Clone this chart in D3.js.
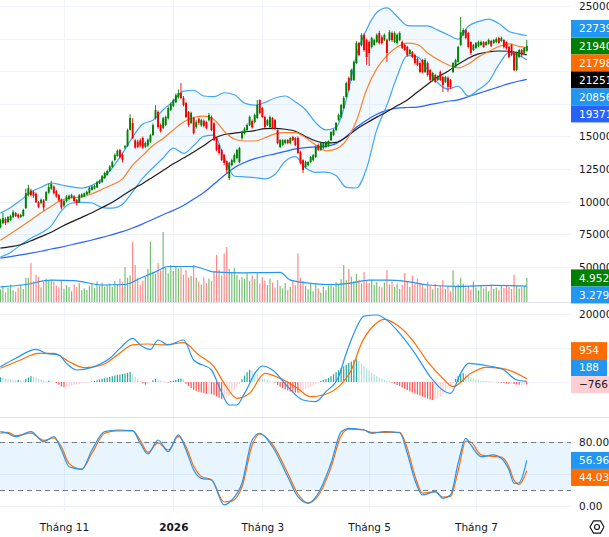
<!DOCTYPE html>
<html>
<head>
<meta charset="utf-8">
<script src="https://cdn.jsdelivr.net/npm/d3@7"></script>
<style>
html, body { margin: 0; padding: 0; background: #fff; overflow: hidden; }
svg { display: block; }
</style>
</head>
<body>
<svg id="chart" width="609" height="537"></svg>
<script>
// ---- data (prices in thousand VND, volume in millions) ----
var openP = [
 80.5, 83.6, 86.7, 84.4, 85.9, 88.2, 91.3, 90.0, 88.2, 89.0,
 95.0, 105.0, 108.5, 107.5, 106.0, 99.7, 99.0, 101.0, 101.0, 107.0,
 110.0, 111.5, 108.0, 105.0, 101.5, 97.0, 100.5, 102.0, 103.0, 104.0,
 101.5, 99.5, 103.5, 104.0, 105.5, 106.5, 109.0, 110.0, 111.0, 114.0,
 115.0, 118.0, 120.5, 123.5, 126.5, 132.0, 135.0, 139.5, 136.0, 141.5,
 142.5, 155.0, 160.3, 147.0, 146.0, 147.0, 148.8, 142.0, 143.0, 146.0,
 151.0, 164.0, 168.7, 158.7, 156.5, 158.7, 164.0, 170.2, 173.3, 176.3,
 180.0, 183.3, 179.5, 175.6, 168.7, 160.3, 164.1, 157.2, 163.5, 158.5,
 162.0, 161.0, 162.5, 164.9, 160.0, 148.8, 143.4, 139.6, 135.7, 131.0,
 118.1, 128.0, 130.4, 133.4, 130.4, 148.8, 152.6, 154.9, 158.7, 161.8,
 161.0, 164.1, 177.9, 171.8, 164.9, 158.7, 157.2, 164.1, 162.6, 154.9,
 141.9, 143.4, 144.9, 147.2, 144.9, 149.5, 148.8, 148.8, 138.0, 131.9,
 126.5, 128.1, 130.4, 131.9, 134.2, 143.4, 139.6, 141.1, 141.9, 142.6,
 147.2, 151.1, 154.9, 162.6, 164.9, 171.8, 180.2, 194.8, 193.3, 193.3,
 206.3, 221.6, 220.1, 227.8, 223.9, 222.4, 218.6, 220.1, 222.4, 229.3,
 226.0, 223.9, 223.9, 223.9, 229.3, 222.4, 221.6, 223.9, 222.4, 220.1,
 218.6, 213.2, 214.7, 212.4, 209.4, 206.3, 208.6, 199.4, 206.3, 200.9,
 193.3, 197.1, 193.3, 199.4, 195.5, 191.8, 195.0, 193.3, 199.4, 203.2,
 207.1, 220.1, 227.8, 231.6, 229.3, 222.4, 216.3, 217.8, 219.4, 220.1,
 222.4, 220.1, 221.0, 223.2, 221.6, 222.4, 225.5, 223.2, 223.9, 222.4,
 218.6, 220.1, 214.0, 200.9, 210.9, 216.3, 214.0, 215.5
];
var highP = [
 87.0, 91.3, 88.0, 89.0, 90.0, 93.5, 92.0, 91.0, 90.5, 94.5,
 110.0, 113.0, 110.0, 108.5, 107.0, 100.5, 102.5, 102.0, 108.0, 114.0,
 116.0, 112.5, 109.0, 106.0, 102.5, 101.5, 105.0, 105.5, 106.0, 105.0,
 102.0, 106.0, 106.5, 107.0, 108.5, 111.5, 112.5, 113.0, 116.0, 117.0,
 120.5, 123.0, 124.5, 128.0, 131.5, 137.0, 140.0, 140.5, 137.0, 143.5,
 156.0, 167.0, 164.0, 148.0, 147.5, 148.5, 150.0, 146.0, 148.5, 152.0,
 160.0, 174.0, 170.0, 160.0, 165.0, 166.0, 173.0, 176.0, 179.0, 183.0,
 186.0, 191.0, 181.0, 176.5, 169.5, 169.0, 165.0, 162.5, 164.5, 163.5,
 163.0, 162.0, 168.0, 166.0, 161.0, 149.5, 144.5, 140.5, 136.5, 131.5,
 130.5, 133.0, 137.0, 140.5, 142.0, 154.5, 157.0, 160.0, 166.0, 163.0,
 167.5, 178.0, 178.5, 172.5, 166.0, 163.5, 166.0, 165.0, 163.5, 155.5,
 148.0, 148.0, 148.0, 148.0, 149.5, 150.5, 149.5, 150.0, 139.0, 132.5,
 131.5, 131.0, 135.0, 136.5, 143.0, 144.5, 146.0, 145.5, 146.5, 147.0,
 154.0, 156.0, 161.0, 167.5, 175.0, 181.0, 192.0, 196.0, 202.0, 208.0,
 223.0, 222.5, 229.0, 229.0, 225.0, 223.5, 226.5, 225.0, 229.0, 231.0,
 227.5, 229.0, 225.0, 231.5, 230.5, 230.5, 229.0, 230.5, 223.5, 221.0,
 219.5, 217.0, 215.5, 213.5, 210.5, 207.5, 209.5, 210.0, 207.5, 202.0,
 199.5, 198.0, 197.0, 200.5, 196.5, 196.5, 196.0, 194.0, 207.0, 209.5,
 219.5, 241.6, 233.0, 232.5, 230.0, 223.0, 221.0, 222.5, 223.5, 223.5,
 223.0, 223.0, 225.0, 224.0, 224.5, 226.0, 226.5, 226.5, 224.5, 223.0,
 219.5, 221.0, 215.0, 215.0, 217.0, 217.0, 218.5, 224.0
];
var lowP = [
 79.5, 82.8, 82.0, 83.5, 85.0, 87.5, 88.2, 87.0, 87.5, 88.5,
 94.5, 104.0, 104.0, 103.0, 99.0, 95.0, 98.0, 93.0, 100.5, 106.0,
 109.0, 105.5, 103.0, 100.0, 94.0, 96.0, 99.5, 101.0, 102.5, 99.5,
 97.0, 99.0, 103.0, 103.5, 105.0, 106.0, 108.5, 109.5, 110.5, 113.5,
 114.5, 117.5, 120.0, 123.0, 126.0, 131.0, 134.5, 133.0, 130.0, 140.5,
 142.0, 154.5, 148.0, 140.5, 141.0, 141.5, 140.5, 141.0, 142.0, 145.0,
 150.5, 163.0, 156.0, 153.0, 155.5, 158.0, 163.0, 169.5, 172.5, 175.5,
 179.0, 178.5, 173.0, 164.0, 157.5, 159.5, 151.5, 156.0, 159.0, 157.5,
 157.0, 155.5, 161.5, 154.0, 146.5, 138.5, 136.0, 131.0, 128.0, 122.0,
 116.5, 127.0, 129.5, 132.5, 129.5, 147.5, 151.5, 154.0, 158.0, 156.0,
 160.0, 163.5, 167.0, 164.0, 156.0, 158.0, 156.5, 155.5, 155.0, 144.0,
 141.0, 142.5, 144.0, 144.0, 144.0, 146.5, 142.5, 136.5, 128.5, 122.0,
 125.5, 127.0, 129.5, 131.0, 133.5, 139.0, 139.0, 140.5, 141.0, 142.0,
 146.5, 150.5, 154.0, 161.5, 164.0, 171.0, 179.5, 184.5, 192.5, 192.5,
 205.5, 211.5, 219.0, 215.0, 205.0, 204.0, 217.5, 219.5, 221.5, 220.5,
 220.5, 223.0, 207.0, 223.0, 222.5, 221.5, 220.5, 223.0, 217.0, 215.5,
 211.0, 212.5, 210.0, 205.0, 204.0, 198.5, 198.5, 198.5, 196.0, 192.5,
 192.0, 191.0, 192.5, 192.5, 184.0, 191.0, 184.0, 186.5, 198.5, 202.5,
 206.5, 219.5, 227.0, 224.5, 217.5, 212.5, 215.5, 217.0, 218.5, 219.5,
 218.0, 219.5, 220.5, 218.5, 221.0, 221.5, 221.0, 222.5, 217.5, 216.5,
 210.0, 211.5, 200.0, 200.0, 210.0, 211.0, 213.0, 215.0
];
var closeP = [
 85.9, 87.4, 83.6, 88.2, 88.9, 92.0, 89.0, 88.0, 89.7, 93.6,
 106.6, 110.4, 105.0, 104.5, 99.7, 96.0, 101.5, 95.5, 107.4, 111.2,
 113.5, 106.5, 104.0, 101.0, 95.5, 100.5, 104.0, 104.5, 105.0, 100.5,
 99.0, 105.0, 105.5, 106.5, 107.5, 110.5, 111.5, 112.0, 115.0, 116.0,
 119.5, 122.0, 123.5, 127.0, 130.5, 135.7, 139.0, 134.0, 132.0, 142.5,
 154.9, 164.1, 148.8, 141.5, 142.0, 143.0, 141.5, 145.0, 147.5, 151.0,
 158.7, 170.2, 157.2, 154.0, 164.0, 165.0, 171.8, 174.8, 177.9, 181.7,
 183.3, 179.5, 174.1, 164.9, 158.7, 168.0, 152.6, 161.0, 160.5, 162.5,
 158.0, 156.5, 166.4, 154.9, 147.2, 139.6, 137.3, 131.9, 129.6, 124.2,
 129.6, 131.9, 135.7, 139.6, 141.1, 153.4, 156.0, 158.7, 164.9, 157.0,
 166.4, 174.1, 168.0, 164.9, 157.2, 162.6, 164.9, 156.4, 156.4, 144.9,
 147.2, 147.2, 147.2, 144.9, 148.8, 147.2, 143.4, 137.3, 129.6, 124.2,
 130.4, 130.4, 134.2, 135.7, 141.9, 139.6, 144.9, 144.9, 145.7, 146.5,
 153.4, 154.9, 160.3, 166.4, 174.1, 179.5, 191.0, 185.6, 200.9, 207.1,
 221.6, 212.4, 227.8, 216.3, 210.9, 214.0, 225.5, 223.9, 227.8, 221.6,
 221.6, 227.8, 214.0, 230.0, 223.9, 229.3, 227.8, 229.3, 217.8, 216.3,
 212.4, 216.3, 210.9, 206.3, 204.8, 199.4, 199.4, 208.6, 197.1, 193.3,
 198.6, 191.8, 196.3, 193.3, 189.4, 195.5, 188.0, 187.9, 206.3, 208.6,
 218.6, 230.0, 231.6, 225.5, 218.6, 214.0, 220.1, 221.6, 222.4, 222.4,
 218.6, 222.4, 223.9, 219.4, 223.9, 224.7, 221.6, 225.5, 218.6, 217.8,
 210.9, 212.4, 200.9, 214.0, 216.3, 212.4, 217.8, 219.4
];
var volume = [
 2.6, 3.2, 2.0, 2.9, 3.6, 2.4, 2.1, 3.0, 3.5, 2.7,
 5.0, 5.0, 8.0, 4.3, 5.6, 5.2, 3.0, 4.1, 4.8, 4.5,
 4.6, 4.2, 3.4, 3.0, 4.5, 2.7, 3.5, 3.1, 2.2, 3.6,
 3.1, 3.9, 2.4, 2.8, 2.5, 3.3, 3.7, 2.9, 4.2, 3.4,
 4.0, 3.2, 3.5, 3.8, 3.1, 4.3, 3.5, 4.8, 4.1, 7.2,
 5.0, 5.5, 12.4, 7.6, 4.9, 3.5, 4.4, 5.2, 6.8, 12.4,
 6.2, 5.8, 8.0, 6.5, 14.4, 7.0, 5.9, 7.6, 6.4, 7.3,
 6.9, 7.1, 5.6, 6.6, 5.0, 5.4, 7.6, 5.0, 4.2, 3.6,
 5.1, 3.9, 4.8, 4.3, 6.3, 9.7, 6.6, 5.4, 10.0, 11.3,
 6.8, 5.9, 7.0, 5.5, 4.6, 5.1, 4.8, 5.9, 4.3, 5.5,
 4.7, 5.9, 3.8, 5.1, 4.4, 3.5, 4.8, 4.0, 3.0, 4.5,
 3.3, 2.8, 3.9, 2.5, 3.1, 4.6, 3.4, 10.0, 5.0, 4.3,
 3.3, 2.6, 3.9, 2.2, 3.7, 2.8, 1.9, 3.1, 2.4, 3.4,
 3.8, 3.0, 4.1, 3.6, 4.7, 7.6, 4.5, 6.8, 5.2, 4.3,
 5.8, 4.6, 3.8, 6.2, 4.4, 3.9, 4.6, 3.5, 4.1, 3.2,
 3.0, 4.0, 6.6, 3.6, 4.2, 3.1, 3.8, 2.7, 3.5, 6.0,
 4.3, 3.1, 5.4, 3.7, 4.8, 4.0, 3.5, 2.8, 4.2, 3.4,
 2.6, 3.7, 2.9, 3.3, 4.5, 2.7, 3.4, 2.2, 6.5, 3.1,
 3.6, 5.0, 3.8, 2.9, 3.2, 2.6, 4.2, 3.0, 2.4, 3.5,
 2.8, 3.1, 2.2, 3.6, 2.7, 3.0, 2.5, 3.3, 2.9, 3.4,
 3.1, 2.7, 5.6, 3.3, 2.8, 3.0, 3.2, 4.952
];

// moving averages / bollinger bands, read at every 4th session
var maDays = [0, 4, 8, 12, 16, 20, 24, 28, 32, 36, 40, 44, 48, 52, 56, 60, 64, 68, 72, 76,
 80, 84, 88, 92, 96, 100, 104, 108, 112, 116, 120, 124, 128, 132, 136, 140, 144, 148, 152, 156,
 160, 164, 168, 172, 176, 180, 184, 188, 192, 196, 200, 204, 207];
var ma20 = [70.5, 75.5, 80.5, 86, 91.5, 96.5, 101.3, 103, 103.6, 106,
 109.5, 113, 117.5, 128, 135.5, 143, 148.5, 155, 161, 164.5,
 165.6, 163, 154, 148, 146.5, 146.5, 149, 152, 153, 153,
 149, 143.5, 139, 140.5, 147, 162, 186, 202, 212, 218.5,
 221.6, 220.5, 214, 209, 205, 202.5, 205.5, 211, 215, 219,
 221, 219, 217.98];
var ma50 = [64.4, 65.5, 67, 70, 73.2, 76.5, 80.8, 84.5, 88, 91.5,
 95.5, 99.5, 104.5, 109.5, 114, 119, 124, 129, 133.5, 138,
 143, 148.5, 151.5, 152.5, 153.5, 154.5, 156, 156.2, 155.5, 154,
 150, 146.5, 145, 145.5, 149.5, 155.5, 160.3, 164.8, 169, 173.5,
 178, 184, 190, 195.5, 200, 205.3, 210, 213.3, 214.8, 215.5,
 215.3, 214, 212.51];
var ma100 = [56.7, 57.9, 59.2, 60.5, 62, 63.7, 65.2, 67, 68.8, 70.6,
 72.6, 74.8, 77, 79.8, 83, 86.5, 90, 93.3, 97, 102,
 107, 113.5, 120, 126, 130, 133, 135, 136.7, 138.5, 140.5,
 141.5, 142, 142.5, 144.5, 150, 157, 162.5, 167, 170, 171.7,
 172.2, 172.5, 174, 175.6, 177, 178, 180.5, 183, 185.5, 188,
 190.5, 192.5, 193.71];
var bbUpper = [91.2, 95.5, 101.2, 107.4, 111, 114.3, 112.8, 111.3, 110.4, 112.5,
 117.5, 126, 137, 149.5, 159.5, 162.5, 170.5, 177, 184.8, 185.4,
 181, 180.5, 183.5, 182, 175.5, 174, 176, 179.5, 181, 176.5,
 170.5, 160.5, 155, 157, 178, 212, 232, 245, 248.5, 242,
 235, 234.8, 234.8, 231.5, 228, 224.5, 234.5, 238, 240, 236.5,
 230.5, 228.5, 227.39];
var bbLower = [57.6, 61, 67, 72, 76, 81.5, 93, 99, 99.5, 99,
 95.5, 95, 98, 107.5, 118, 126, 133.5, 141, 137, 143,
 150, 151, 134, 119.5, 119, 118.5, 117.5, 121, 131, 134.5,
 126, 122.5, 122.7, 120, 111, 110.5, 125.5, 155, 174, 196,
 212, 211, 201, 191, 186.3, 188.5, 181, 186, 192, 205,
 214.5, 212, 208.56];

var volMaDays = [0, 10, 20, 29, 40, 49, 55, 61, 66, 76, 84, 95, 110, 114, 122, 130, 137, 145, 152, 160, 168, 180, 194, 207];
var volMa = [3.1, 3.6, 4.5, 4.4, 3.5, 3.6, 4.9, 6.2, 7.3, 7.3, 6.2, 6.0, 6.1, 4.5, 3.85, 3.6, 3.85, 4.5, 4.5, 4.2, 3.5, 3.2, 3.4, 3.279];

// MACD
var macdDays = [0, 6, 14, 18, 23, 26, 30, 36, 43, 47, 52, 55, 59, 62, 66, 72, 76, 83, 86, 90,
 93, 96, 101, 103, 107, 113, 119, 124, 128, 133, 136, 139, 143, 148, 152, 157, 163, 169, 177, 181,
 184, 192, 198, 203, 207];
var macdLine = [4500, 6970, 9600, 8440, 7940, 5490, 3530, 4320, 6970, 9900,
 12850, 10900, 9600, 12350, 10900, 12350, 6470, 3530, -1380, -6760,
 -6760, -3330, 3530, 4700, 3530, -1380, -5290, -5780, -2850, 1570,
 8440, 14300, 19400, 19700, 18200, 14300, 8440, 1570, -3330, 2550,
 5490, 4700, 3530, 590, 188];
var signalDays = [0, 7, 15, 21, 27, 33, 40, 46, 52, 58, 64, 72, 78, 84, 88, 93, 98, 104, 110, 116,
 122, 127, 133, 138, 142, 147, 151, 156, 162, 168, 174, 178, 185, 191, 197, 203, 207];
var signalLine = [4020, 6170, 8440, 8440, 5980, 4210, 5000, 7940, 10900, 11170,
 10900, 11560, 7940, 4500, -380, -4790, -3330, 2550, 1080, -1380,
 -4310, -3820, -1380, 3530, 11370, 16760, 18430, 16760, 12350, 5980,
 1080, -1380, 2550, 4320, 4020, 2550, 954];
var macdHist = [
 1400, 1200, 1000, 900, 800, 700, 600, 700, 600, 500,
 900, 1300, 1700, 1500, 1300, 1000, 700, 400, 300, 400,
 200, 100, -300, -800, -1300, -1500, -1400, -1300, -1100, -900,
 -700, -600, -400, -300, -200, -100, 100, 300, 500, 700,
 900, 1100, 1300, 1500, 1700, 1900, 2100, 2200, 2400, 2500,
 2700, 3000, 2300, 1600, 900, 300, -400, -800, -600, -200,
 500, 900, 700, 400, 300, 200, -200, 300, 400, 600,
 900, 1000, 800, -500, -1200, -1800, -2300, -2600, -2900, -3100,
 -3300, -3500, -3300, -3600, -3800, -4200, -4600, -5000, -4800, -4500,
 -4000, -3200, -2400, -1500, -600, 800, 1900, 2900, 3600, 3300,
 2900, 2400, 1900, 1300, 900, 500, 300, 100, -200, -900,
 -1400, -1800, -2200, -2500, -2800, -3000, -3100, -3200, -3000, -2700,
 -2200, -1800, -1400, -1000, -700, -300, 300, 600, 900, 1200,
 1700, 2300, 2900, 3500, 4100, 4600, 5100, 5600, 6000, 6400,
 6700, 6200, 5400, 4700, 4000, 3400, 2800, 2300, 1800, 1400,
 1000, 700, 400, 200, -200, -500, -900, -1200, -1600, -2000,
 -2400, -2800, -3100, -3400, -3700, -4000, -4300, -4600, -4900, -5100,
 -5300, -5100, -4800, -4400, -3600, -2800, -2000, -1200, -400, 900,
 1700, 2400, 2600, 2200, 1800, 1400, 1100, 800, 600, 400,
 300, 300, 200, 200, 100, 100, -100, -200, -300, -400,
 -500, -500, -600, -700, -800, -800, -750, -766
];

// Stochastic
var stochDays = [0, 3, 6, 12, 17, 21, 24, 27, 32, 36, 41, 46, 52, 55, 58, 62, 66, 70, 73, 76,
 79, 83, 88, 91, 95, 99, 102, 107, 113, 117, 121, 125, 130, 134, 137, 143, 146, 151, 157, 160,
 163, 166, 171, 174, 177, 180, 183, 185, 189, 194, 197, 200, 202, 204, 207];
var stochK = [92.9, 90.8, 86.6, 92.9, 80.4, 86.6, 70, 49, 45.9, 70,
 92.9, 95, 94.1, 78.4, 65, 82.5, 67.9, 88.8, 70, 45,
 34.6, 32.5, 1.3, 7.5, 28.4, 82.5, 90.8, 74.1, 36.6, 11.6,
 3.4, 15.9, 53.4, 92.9, 97.1, 95, 90.8, 92.9, 91.6, 65.9,
 32.5, 13.8, 17.9, 9.6, 13.8, 53.4, 84.6, 76.3, 61.6, 63.8,
 59.6, 45, 28.4, 29.1, 56.96];
var stochD = [91, 92, 88, 91, 82, 85, 74, 53, 46, 66,
 91, 94, 94, 82, 67, 79, 70, 87, 74, 50,
 37, 33, 5, 6, 24, 76, 90, 77, 41, 15,
 4, 13, 48, 88, 96, 95, 92, 92, 92, 72,
 38, 16, 18, 11, 12, 44, 81, 80, 64, 62,
 61, 49, 32, 27, 44.03];

// axis
var priceTicks = [50, 75, 100, 125, 150, 175, 200, 225, 250];
var macdTicks = [0, 10000, 20000];
var stochTicks = [0, 40, 80];
var stochBands = [80, 20];
var tickDays = [25, 68, 103, 145, 187];
var tickLabels = ["Tháng 11", "2026", "Tháng 3", "Tháng 5", "Tháng 7"];

// ---- drawing ----
var FONT = '"DejaVu Sans", sans-serif';
var FS = 10.5;
var plotW = 571;
var svg = d3.select("#chart").attr("font-family", FONT);

var x = d3.scaleLinear().domain([0, 207]).range([0.4, 526.8]);
var yP = d3.scaleLinear().domain([50, 250]).range([266.9, 6]);
var yV = d3.scaleLinear().domain([0, 14.4]).range([302, 232]);
var yM = d3.scaleLinear().domain([-10000, 20000]).range([416, 314]);
var yS = d3.scaleLinear().domain([0, 100]).range([506, 426]);

var defs = svg.append("defs");
function clip(id, y0, h) {
	defs.append("clipPath").attr("id", id).append("rect")
		.attr("x", 0).attr("y", y0).attr("width", plotW).attr("height", h);
}
clip("cp", 0, 302);
clip("cm", 303, 114);
clip("cs", 418, 93);

var grid = svg.append("g").attr("stroke", "#f0f3fa").attr("stroke-width", 1);
grid.selectAll(".vg").data(tickDays).enter().append("line")
	.attr("x1", d => Math.round(x(d)) + 0.5).attr("x2", d => Math.round(x(d)) + 0.5)
	.attr("y1", 0).attr("y2", 511);
grid.selectAll(".pg").data(priceTicks).enter().append("line")
	.attr("x1", 0).attr("x2", plotW)
	.attr("y1", d => Math.round(yP(d)) + 0.5).attr("y2", d => Math.round(yP(d)) + 0.5);
grid.selectAll(".mg").data(macdTicks).enter().append("line")
	.attr("x1", 0).attr("x2", plotW)
	.attr("y1", d => Math.round(yM(d)) + 0.5).attr("y2", d => Math.round(yM(d)) + 0.5);
grid.selectAll(".sg").data(stochTicks).enter().append("line")
	.attr("x1", 0).attr("x2", plotW)
	.attr("y1", d => Math.round(yS(d)) + 0.5).attr("y2", d => Math.round(yS(d)) + 0.5);

// pane separators
svg.append("line").attr("x1", 0).attr("x2", 609).attr("y1", 302.5).attr("y2", 302.5).attr("stroke", "#dfe2ea");
svg.append("line").attr("x1", 0).attr("x2", 609).attr("y1", 417.5).attr("y2", 417.5).attr("stroke", "#dfe2ea");

var days = d3.range(closeP.length);
function up(i) { return closeP[i] >= openP[i]; }

// ---- price pane ----
var gp = svg.append("g").attr("clip-path", "url(#cp)");

// volume
gp.selectAll(".vol").data(days).enter().append("rect")
	.attr("x", i => x(i) - 0.6).attr("width", 1.2)
	.attr("y", i => yV(volume[i])).attr("height", i => yV(0) - yV(volume[i]))
	.attr("fill", i => up(i) ? "rgba(0,140,0,0.55)" : "rgba(255,40,40,0.55)");
gp.append("path").datum(volMaDays)
	.attr("fill", "none").attr("stroke", "#2196f3").attr("stroke-width", 1.2)
	.attr("d", d3.line().x(d => x(d)).y((d, k) => yV(volMa[k])).curve(d3.curveMonotoneX));

// bollinger fill
gp.append("path").datum(maDays)
	.attr("fill", "rgba(33,150,243,0.06)")
	.attr("d", d3.area().x(d => x(d)).y0((d, k) => yP(bbLower[k])).y1((d, k) => yP(bbUpper[k])).curve(d3.curveMonotoneX));

function maLine(vals, color, w) {
	gp.append("path").datum(maDays)
		.attr("fill", "none").attr("stroke", color).attr("stroke-width", w)
		.attr("d", d3.line().x(d => x(d)).y((d, k) => yP(vals[k])).curve(d3.curveMonotoneX));
}
maLine(ma100, "#2962ff", 1.2);
maLine(bbUpper, "#42a5f5", 1.2);
maLine(bbLower, "#42a5f5", 1.2);
maLine(ma50, "#1c1c1c", 1.2);
maLine(ma20, "#ff7f27", 1.2);

// candles
var cg = gp.append("g");
cg.selectAll(".wick").data(days).enter().append("line")
	.attr("x1", i => x(i)).attr("x2", i => x(i))
	.attr("y1", i => yP(highP[i])).attr("y2", i => yP(lowP[i]))
	.attr("stroke", i => up(i) ? "#008000" : "#f00000").attr("stroke-width", 0.9);
cg.selectAll(".body").data(days).enter().append("rect")
	.attr("x", i => x(i) - 0.95).attr("width", 1.9)
	.attr("y", i => yP(Math.max(openP[i], closeP[i])))
	.attr("height", i => Math.max(1, Math.abs(yP(openP[i]) - yP(closeP[i]))))
	.attr("fill", i => up(i) ? "#008000" : "#f00000");

// ---- MACD pane ----
var gm = svg.append("g").attr("clip-path", "url(#cm)");
function histColor(i) {
	var h = macdHist[i], p = i > 0 ? macdHist[i - 1] : 0;
	if (h >= 0) return h > p ? "#26a69a" : "#b2dfdb";
	return h < p ? "#ff5252" : "#ffcdd2";
}
gm.selectAll(".hist").data(days).enter().append("rect")
	.attr("x", i => x(i) - 0.6).attr("width", 1.2)
	.attr("y", i => yM(Math.max(0, macdHist[i])))
	.attr("height", i => Math.abs(yM(macdHist[i]) - yM(0)))
	.attr("fill", histColor);
gm.append("path").datum(signalDays)
	.attr("fill", "none").attr("stroke", "#ff6d00").attr("stroke-width", 1.2)
	.attr("d", d3.line().x(d => x(d)).y((d, k) => yM(signalLine[k])).curve(d3.curveMonotoneX));
gm.append("path").datum(macdDays)
	.attr("fill", "none").attr("stroke", "#2196f3").attr("stroke-width", 1.2)
	.attr("d", d3.line().x(d => x(d)).y((d, k) => yM(macdLine[k])).curve(d3.curveMonotoneX));

// ---- Stochastic pane ----
var gs = svg.append("g").attr("clip-path", "url(#cs)");
gs.append("rect").attr("x", 0).attr("width", plotW)
	.attr("y", yS(stochBands[0])).attr("height", yS(stochBands[1]) - yS(stochBands[0]))
	.attr("fill", "rgba(33,150,243,0.1)");
gs.selectAll(".band").data(stochBands).enter().append("line")
	.attr("x1", 0).attr("x2", plotW)
	.attr("y1", d => Math.round(yS(d)) + 0.5).attr("y2", d => Math.round(yS(d)) + 0.5)
	.attr("stroke", "#787b86").attr("stroke-dasharray", "5,4");
gs.append("path").datum(stochDays)
	.attr("fill", "none").attr("stroke", "#ff6d00").attr("stroke-width", 1.2)
	.attr("d", d3.line().x(d => x(d)).y((d, k) => yS(stochD[k])).curve(d3.curveMonotoneX));
gs.append("path").datum(stochDays)
	.attr("fill", "none").attr("stroke", "#2196f3").attr("stroke-width", 1.2)
	.attr("d", d3.line().x(d => x(d)).y((d, k) => yS(stochK[k])).curve(d3.curveMonotoneX));

// ---- axes ----
function styleAxis(g) {
	g.attr("font-family", FONT).attr("font-size", FS);
	g.select(".domain").remove();
	g.selectAll("text").attr("fill", "#131722");
}
var axP = svg.append("g").attr("transform", "translate(" + plotW + ",0)")
	.call(d3.axisRight(yP).tickValues(priceTicks).tickFormat(d => d * 1000).tickSize(0).tickPadding(8))
	.call(styleAxis);
var axM = svg.append("g").attr("transform", "translate(" + plotW + ",0)")
	.call(d3.axisRight(yM).tickValues(macdTicks).tickFormat(d3.format("d")).tickSize(0).tickPadding(8))
	.call(styleAxis);
var axS = svg.append("g").attr("transform", "translate(" + plotW + ",0)")
	.call(d3.axisRight(yS).tickValues(stochTicks).tickFormat(d3.format(".2f")).tickSize(0).tickPadding(8))
	.call(styleAxis);
svg.append("g").attr("transform", "translate(0,519)")
	.call(d3.axisBottom(x).tickValues(tickDays).tickFormat((d, k) => tickLabels[k]).tickSize(0).tickPadding(5))
	.call(styleAxis)
	.selectAll("text").attr("font-weight", (d, k) => tickLabels[k] === "2026" ? "bold" : null);

// ---- value badges ----
var badgeYs = [];
function badges(list, dir, shift) {
	list.sort((a, b) => a.y - b.y);
	var n = list.length;
	if (dir === "down") {
		list.forEach((d, k) => { d.py = k === 0 ? d.y + shift : Math.max(d.y, list[k - 1].py + 17); });
	} else {
		for (var k = n - 1; k >= 0; k--) {
			list[k].py = k === n - 1 ? list[k].y + shift : Math.min(list[k].y, list[k + 1].py - 17);
		}
	}
	list.forEach(d => {
		badgeYs.push(d.py);
		var g = svg.append("g");
		var r = g.append("rect").attr("x", plotW).attr("y", d.py - 8.5).attr("height", 17).attr("fill", d.bg);
		var t = g.append("text").attr("x", plotW + 8).attr("y", d.py).attr("dy", "0.35em")
			.attr("font-size", FS).attr("fill", d.fg || "#fff").text(d.text);
		r.attr("width", t.node().getComputedTextLength() + 16);
	});
}
var last = closeP.length - 1;
var pf = v => d3.format("d")(Math.round(v * 1000));
badges([
	{ y: yP(bbUpper[bbUpper.length - 1]), text: pf(bbUpper[bbUpper.length - 1]), bg: "#2196f3" },
	{ y: yP(closeP[last]), text: pf(closeP[last]), bg: "#008000" },
	{ y: yP(ma20[ma20.length - 1]), text: pf(ma20[ma20.length - 1]), bg: "#ff6d00" },
	{ y: yP(ma50[ma50.length - 1]), text: pf(ma50[ma50.length - 1]), bg: "#000000" },
	{ y: yP(bbLower[bbLower.length - 1]), text: pf(bbLower[bbLower.length - 1]), bg: "#2196f3" },
	{ y: yP(ma100[ma100.length - 1]), text: pf(ma100[ma100.length - 1]), bg: "#2962ff" }
], "down", -7);
badges([
	{ y: yV(volume[last]), text: d3.format(".3f")(volume[last]) + "M", bg: "#008000" },
	{ y: yV(volMa[volMa.length - 1]), text: d3.format(".3f")(volMa[volMa.length - 1]) + "M", bg: "#2196f3" }
], "down", 0);
badges([
	{ y: yM(signalLine[signalLine.length - 1]), text: d3.format("d")(signalLine[signalLine.length - 1]), bg: "#ff6d00" },
	{ y: yM(macdLine[macdLine.length - 1]), text: d3.format("d")(macdLine[macdLine.length - 1]), bg: "#2196f3" },
	{ y: yM(macdHist[last]), text: d3.format("d")(macdHist[last]), bg: "#ffcdd2", fg: "#131722" }
], "up", 0);
badges([
	{ y: yS(stochK[stochK.length - 1]), text: d3.format(".2f")(stochK[stochK.length - 1]), bg: "#2196f3" },
	{ y: yS(stochD[stochD.length - 1]), text: d3.format(".2f")(stochD[stochD.length - 1]), bg: "#ff6d00" }
], "down", 0);

// axis labels that sit under a badge are not visible on the chart: drop them
function hideCovered(ax, scale) {
	ax.selectAll(".tick").filter(d => badgeYs.some(b => Math.abs(b - scale(d)) < 10)).remove();
}
hideCovered(axP, yP);
hideCovered(axM, yM);
hideCovered(axS, yS);

// settings gear
var gear = svg.append("g").attr("transform", "translate(597,527)")
	.attr("fill", "none").attr("stroke", "#131722").attr("stroke-width", 1.2);
gear.append("path").attr("d", d3.line()(d3.range(7).map(k => [7 * Math.cos(k * Math.PI / 3), 7 * Math.sin(k * Math.PI / 3)])));
gear.append("circle").attr("r", 2.5);
</script>
</body>
</html>
